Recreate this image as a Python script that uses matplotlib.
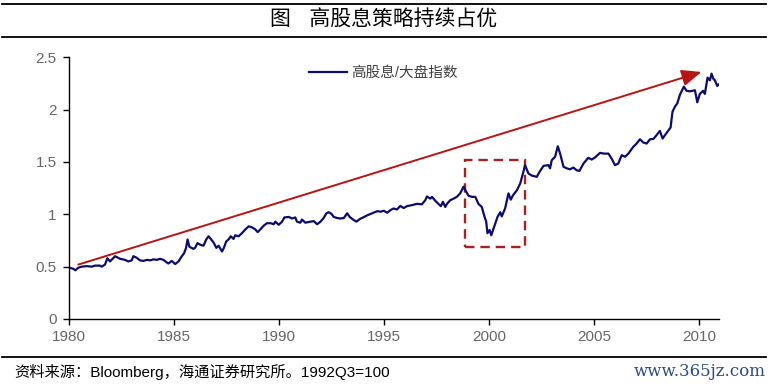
import matplotlib
matplotlib.use("Agg")
import matplotlib.pyplot as plt
from matplotlib.lines import Line2D
from matplotlib.patches import Rectangle

plt.rcParams['font.family'] = ['Noto Sans CJK SC', 'DejaVu Sans']

# Data: high-dividend / broad-market index ratio
years = [1980.00, 1980.19, 1980.29, 1980.43, 1980.59, 1980.83, 1981.07, 1981.22, 1981.46, 1981.54,
         1981.70, 1981.81, 1981.94, 1982.18, 1982.42, 1982.65, 1982.81, 1982.97, 1983.05, 1983.21,
         1983.37, 1983.53, 1983.69, 1983.85, 1984.01, 1984.17, 1984.32, 1984.48, 1984.64, 1984.72,
         1984.88, 1985.04, 1985.20, 1985.36, 1985.47, 1985.56, 1985.63, 1985.72, 1985.91, 1985.99,
         1986.10, 1986.23, 1986.39, 1986.52, 1986.63, 1986.74, 1986.87, 1987.00, 1987.11, 1987.27,
         1987.35, 1987.47, 1987.58, 1987.69, 1987.82, 1987.90, 1988.06, 1988.22, 1988.38, 1988.54,
         1988.70, 1988.86, 1988.97, 1989.09, 1989.25, 1989.41, 1989.60, 1989.73, 1989.81, 1989.97,
         1990.13, 1990.24, 1990.45, 1990.60, 1990.76, 1990.84, 1991.00, 1991.08, 1991.24, 1991.48,
         1991.64, 1991.80, 1991.96, 1992.11, 1992.24, 1992.35, 1992.48, 1992.59, 1992.75, 1992.91,
         1993.07, 1993.23, 1993.35, 1993.51, 1993.67, 1993.83, 1993.99, 1994.18, 1994.42, 1994.66,
         1994.82, 1994.98, 1995.13, 1995.29, 1995.44, 1995.60, 1995.76, 1995.92, 1996.08, 1996.32,
         1996.55, 1996.79, 1996.95, 1997.03, 1997.19, 1997.27, 1997.42, 1997.58, 1997.69, 1997.79,
         1997.90, 1997.98, 1998.14, 1998.30, 1998.45, 1998.61, 1998.77, 1998.90, 1999.01, 1999.17,
         1999.33, 1999.48, 1999.64, 1999.75, 1999.85, 1999.91, 2000.01, 2000.09, 2000.20, 2000.28,
         2000.39, 2000.52, 2000.59, 2000.75, 2000.91, 2001.02, 2001.12, 2001.31, 2001.47, 2001.62,
         2001.70, 2001.86, 2002.02, 2002.26, 2002.39, 2002.58, 2002.81, 2002.89, 2002.97, 2003.13,
         2003.26, 2003.37, 2003.53, 2003.68, 2003.84, 2004.00, 2004.16, 2004.29, 2004.48, 2004.71,
         2004.87, 2005.03, 2005.27, 2005.46, 2005.67, 2005.82, 2005.98, 2006.14, 2006.30, 2006.46,
         2006.62, 2006.85, 2007.01, 2007.17, 2007.33, 2007.49, 2007.65, 2007.81, 2007.96, 2008.12,
         2008.25, 2008.36, 2008.52, 2008.63, 2008.72, 2008.84, 2008.95, 2009.07, 2009.26, 2009.39,
         2009.55, 2009.79, 2009.90, 2010.02, 2010.18, 2010.26, 2010.39, 2010.50, 2010.58, 2010.66,
         2010.74, 2010.85, 2010.91]
ratio = [0.49, 0.48, 0.465, 0.49, 0.50, 0.505, 0.50, 0.51, 0.51, 0.50,
         0.52, 0.58, 0.55, 0.60, 0.575, 0.565, 0.55, 0.56, 0.60, 0.585,
         0.56, 0.555, 0.565, 0.56, 0.57, 0.565, 0.575, 0.565, 0.54, 0.53,
         0.555, 0.525, 0.55, 0.60, 0.63, 0.68, 0.76, 0.69, 0.67, 0.68,
         0.725, 0.71, 0.70, 0.76, 0.79, 0.765, 0.73, 0.68, 0.70, 0.645,
         0.675, 0.74, 0.76, 0.79, 0.765, 0.80, 0.79, 0.82, 0.855, 0.885,
         0.875, 0.855, 0.83, 0.855, 0.89, 0.915, 0.915, 0.905, 0.93, 0.90,
         0.93, 0.97, 0.975, 0.96, 0.97, 0.93, 0.92, 0.95, 0.92, 0.93,
         0.935, 0.905, 0.93, 0.965, 1.01, 1.02, 1.005, 0.975, 0.965, 0.96,
         0.965, 1.01, 0.975, 0.95, 0.93, 0.955, 0.97, 0.99, 1.01, 1.03,
         1.025, 1.034, 1.015, 1.04, 1.056, 1.046, 1.08, 1.06, 1.078, 1.088,
         1.10, 1.096, 1.135, 1.17, 1.15, 1.167, 1.13, 1.10, 1.078, 1.12,
         1.07, 1.10, 1.135, 1.15, 1.167, 1.20, 1.263, 1.215, 1.177, 1.167,
         1.167, 1.10, 1.07, 0.99, 0.93, 0.82, 0.85, 0.80, 0.865, 0.91,
         0.976, 1.02, 0.98, 1.056, 1.20, 1.14, 1.18, 1.23, 1.295, 1.406,
         1.47, 1.39, 1.37, 1.358, 1.406, 1.463, 1.47, 1.44, 1.517, 1.55,
         1.65, 1.58, 1.454, 1.44, 1.43, 1.447, 1.42, 1.415, 1.485, 1.54,
         1.523, 1.543, 1.587, 1.58, 1.58, 1.533, 1.47, 1.485, 1.565, 1.55,
         1.58, 1.644, 1.676, 1.717, 1.686, 1.676, 1.717, 1.72, 1.756, 1.797,
         1.724, 1.756, 1.80, 1.83, 1.98, 2.03, 2.06, 2.14, 2.22, 2.18,
         2.175, 2.185, 2.07, 2.15, 2.18, 2.15, 2.306, 2.28, 2.344, 2.296,
         2.28, 2.226, 2.24]

series_label = "高股息/大盘指数"
title_text = "图    高股息策略持续占优"
source_text = "资料来源：Bloomberg，海通证券研究所。1992Q3=100"
watermark = "www.365jz.com"
xticks = [1980, 1985, 1990, 1995, 2000, 2005, 2010]
yticks = [0, 0.5, 1, 1.5, 2, 2.5]
ytick_labels = ["0", "0.5", "1", "1.5", "2", "2.5"]

# Annotation geometry in data units
arrow_start = (1980.43, 0.52)
arrow_end = (2010.1, 2.36)
box_x0, box_x1 = 1998.83, 2001.69
box_y0, box_y1 = 0.69, 1.517

W, H = 769, 385
fig = plt.figure(figsize=(W / 100, H / 100), dpi=100)
fig.patch.set_facecolor("white")

ax = fig.add_axes([69.3 / W, 1 - 319 / H, (718.7 - 69.3) / W, (319 - 57.3) / H])
ax.plot(years, ratio, color="#0c0c6e", lw=1.6, label=series_label, solid_joinstyle="round")

ax.set_xlim(1980, 2010.92)
ax.set_ylim(0, 2.5)
ax.set_xticks(xticks)
ax.set_xticklabels([str(x) for x in xticks])
ax.set_yticks(yticks)
ax.set_yticklabels(ytick_labels)
for s in ["top", "right"]:
    ax.spines[s].set_visible(False)
for s in ["left", "bottom"]:
    ax.spines[s].set_color("black")
    ax.spines[s].set_linewidth(1.0)
ax.tick_params(axis="both", direction="out", length=4, width=1.0, color="black",
               labelcolor="#666666", labelsize=11)
ax.tick_params(axis="x", pad=4)
ax.tick_params(axis="y", pad=5)
for lab in ax.get_xticklabels() + ax.get_yticklabels():
    lab.set_family(["Liberation Sans", "DejaVu Sans"])

# arrow
ax.annotate("", xy=arrow_end, xytext=arrow_start,
            arrowprops=dict(arrowstyle="-|>,head_length=1.2,head_width=0.5",
                            color="#b81414", lw=1.4, shrinkA=0, shrinkB=0))
# dashed box
rect = Rectangle((box_x0, box_y0), box_x1 - box_x0, box_y1 - box_y0, fill=False,
                 edgecolor="#a8201f", lw=1.7, linestyle=(0, (4, 2.5)))
ax.add_patch(rect)

leg = ax.legend(loc="upper left", bbox_to_anchor=((300 - 69.3) / (718.7 - 69.3), 1.0),
                frameon=False, fontsize=10.5, handlelength=2.6, handletextpad=0.3,
                borderaxespad=0.2)
for t in leg.get_texts():
    t.set_color("#404040")
    t.set_family(["Liberation Sans", "Noto Sans CJK SC"])

# header/footer decoration
fig.add_artist(Line2D([2 / W, 766 / W], [1 - 3.5 / H, 1 - 3.5 / H], color="black", lw=1.3))
fig.add_artist(Line2D([2 / W, 766 / W], [1 - 37 / H, 1 - 37 / H], color="black", lw=1.3))
fig.add_artist(Line2D([2 / W, 766 / W], [1 - 357 / H, 1 - 357 / H], color="black", lw=1.3))

fig.text(384 / W, 1 - 20 / H, title_text, ha="center", va="center", fontsize=15,
         color="black", fontweight="medium")
fig.text(14 / W, 1 - 372 / H, source_text, ha="left", va="center", fontsize=11,
         color="black", family=["Liberation Sans", "Noto Sans CJK SC"])
fig.text(766 / W, 1 - 372 / H, watermark, ha="right", va="center", fontsize=12,
         color="#2b4a86", family=["DejaVu Serif"])

fig.savefig("out.png", dpi=100, facecolor="white")
